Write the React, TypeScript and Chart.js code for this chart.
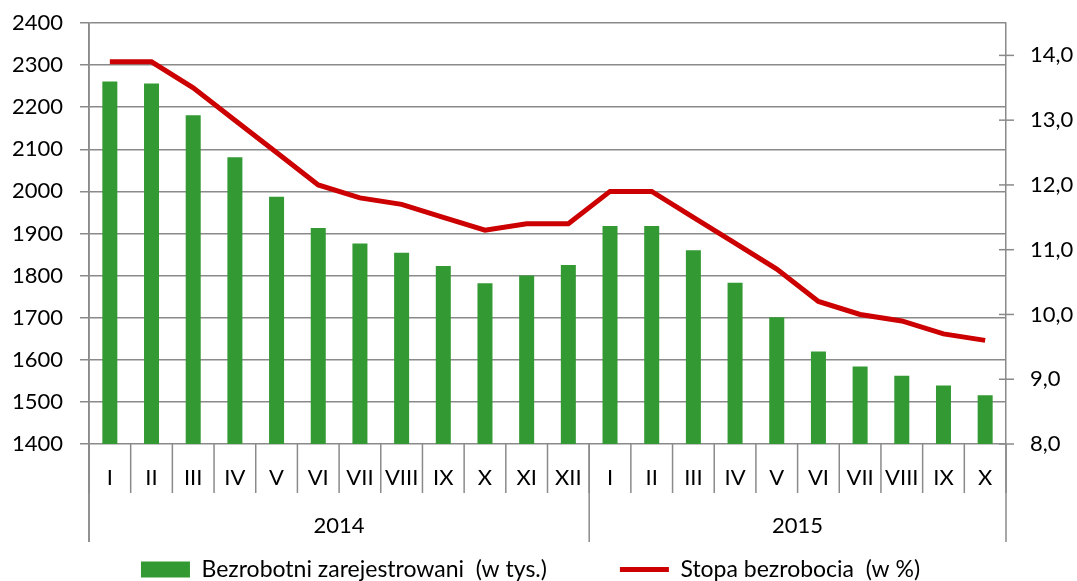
import React, { useEffect, useRef } from 'react';
import { Chart, registerables } from 'chart.js';

Chart.register(...registerables);

const months = ['I', 'II', 'III', 'IV', 'V', 'VI', 'VII', 'VIII', 'IX', 'X', 'XI', 'XII', 'I', 'II', 'III', 'IV', 'V', 'VI', 'VII', 'VIII', 'IX', 'X'];
const years = ['2014', '2015'];
const monthsPerYear = [12, 10];
const unemployed = [2261, 2256, 2181, 2081, 1987, 1913, 1876, 1854, 1823, 1782, 1800, 1825, 1918, 1918, 1860, 1783, 1701, 1620, 1584, 1562, 1539, 1516];
const rate = [13.9, 13.9, 13.5, 13.0, 12.5, 12.0, 11.8, 11.7, 11.5, 11.3, 11.4, 11.4, 11.9, 11.9, 11.5, 11.1, 10.7, 10.2, 10.0, 9.9, 9.7, 9.6];
const seriesNames = ['Bezrobotni zarejestrowani  (w tys.)', 'Stopa bezrobocia  (w %)'];

const GRID = '#8a8a8a';
const FONT = 'Lato, "Open Sans", sans-serif';
const AXIS_SIZE = 22;

const axisDecor = {
  id: 'axisDecor',
  afterDraw(chart: any) {
    const ctx = chart.ctx;
    const x = chart.scales.x;
    const yR = chart.scales.yR;
    const area = chart.chartArea;
    const n = months.length;
    const w = (x.right - x.left) / n;
    ctx.save();
    ctx.strokeStyle = GRID;
    ctx.lineWidth = 1.5;
    for (let i = 0; i <= n; i++) {
      const px = x.left + i * w;
      ctx.beginPath();
      ctx.moveTo(px, area.bottom);
      ctx.lineTo(px, area.bottom + 49);
      ctx.stroke();
    }
    let start = 0;
    ctx.fillStyle = '#000';
    ctx.font = AXIS_SIZE + 'px ' + FONT;
    ctx.textAlign = 'center';
    ctx.textBaseline = 'middle';
    const bounds = [0];
    monthsPerYear.forEach((c) => { start += c; bounds.push(start); });
    bounds.forEach((b) => {
      const px = x.left + b * w;
      ctx.beginPath();
      ctx.moveTo(px, area.bottom);
      ctx.lineTo(px, area.bottom + 98);
      ctx.stroke();
    });
    years.forEach((yr, i) => {
      const cx = x.left + ((bounds[i] + bounds[i + 1]) / 2) * w;
      ctx.fillText(yr, cx, area.bottom + 82);
    });
    yR.ticks.forEach((t: any) => {
      const py = yR.getPixelForValue(t.value);
      ctx.beginPath();
      ctx.moveTo(area.right - 7, py);
      ctx.lineTo(area.right + 8, py);
      ctx.stroke();
    });
    ctx.beginPath();
    ctx.moveTo(area.left, area.top);
    ctx.lineTo(area.left, area.bottom + 98);
    ctx.stroke();
    ctx.restore();
  },
};

const noPad = (s: any) => {
  s.paddingTop = 0;
  s.paddingBottom = 0;
  s.paddingLeft = 0;
  s.paddingRight = 0;
};

export default function App() {
  const ref = useRef<HTMLCanvasElement | null>(null);
  useEffect(() => {
    if (!ref.current) return;
    Chart.defaults.font.family = FONT;
    Chart.defaults.font.size = AXIS_SIZE;
    Chart.defaults.color = '#000';
    const chart = new Chart(ref.current, {
      type: 'bar',
      data: {
        labels: months,
        datasets: [
          {
            type: 'bar',
            label: seriesNames[0],
            data: unemployed,
            backgroundColor: '#339933',
            borderWidth: 0,
            barPercentage: 0.36,
            categoryPercentage: 1,
            yAxisID: 'y',
            order: 1,
            pointStyle: 'rect',
          } as any,
          {
            type: 'line',
            label: seriesNames[1],
            data: rate,
            borderColor: '#cc0000',
            backgroundColor: '#cc0000',
            borderWidth: 5,
            pointRadius: 0,
            tension: 0,
            yAxisID: 'yR',
            order: 0,
            pointStyle: 'line',
          } as any,
        ],
      },
      options: {
        animation: false,
        responsive: false,
        maintainAspectRatio: false,
        layout: { padding: { top: 23, left: 0, right: 0, bottom: -10 } },
        plugins: {
          tooltip: { enabled: false },
          legend: {
            position: 'bottom',
            labels: {
              usePointStyle: true,
              pointStyleWidth: 49,
              boxHeight: 16,
              padding: 73,
              font: { size: 23, family: FONT },
              color: '#000',
              sort: (a: any, b: any) => a.datasetIndex - b.datasetIndex,
            },
          },
        },
        scales: {
          x: {
            type: 'category',
            offset: true,
            grid: { display: false, drawTicks: false },
            border: { display: false },
            ticks: { padding: 21, maxRotation: 0, autoSkip: false },
            afterFit: (s: any) => {
              s.height = 41;
              noPad(s);
              s._computeLabelArea = () => undefined;
            },
          },
          y: {
            position: 'left',
            min: 1400,
            max: 2400,
            ticks: { stepSize: 100, padding: 17, callback: (v: any) => String(v) },
            grid: { color: GRID, lineWidth: 1.5, tickLength: 9 },
            border: { color: GRID, width: 1.5 },
            afterFit: (s: any) => { s.width = 89; noPad(s); },
          },
          yR: {
            position: 'right',
            min: 8,
            max: 14.5,
            ticks: {
              stepSize: 1,
              padding: 24,
              callback: (v: any) => Number(v).toFixed(1).replace('.', ','),
            },
            afterBuildTicks: (s: any) => { s.ticks = s.ticks.filter((t: any) => Number.isInteger(t.value)); },
            grid: { drawOnChartArea: false, drawTicks: false },
            border: { color: GRID, width: 1.5 },
            afterFit: (s: any) => { s.width = 71; noPad(s); },
          },
        },
      },
      plugins: [axisDecor],
    });
    const lg: any = (chart as any).legend;
    if (lg) {
      const orig = lg.draw.bind(lg);
      lg.draw = (...args: any[]) => {
        const c = chart.ctx;
        c.save();
        c.translate(-8, 0);
        orig(...args);
        c.restore();
      };
      chart.draw();
    }
    return () => chart.destroy();
  }, []);
  return (
    <div style={{ position: 'fixed', left: 0, top: 0, width: 1077, height: 581, background: '#fff' }}>
      <canvas ref={ref} width={1077} height={581} />
    </div>
  );
}
